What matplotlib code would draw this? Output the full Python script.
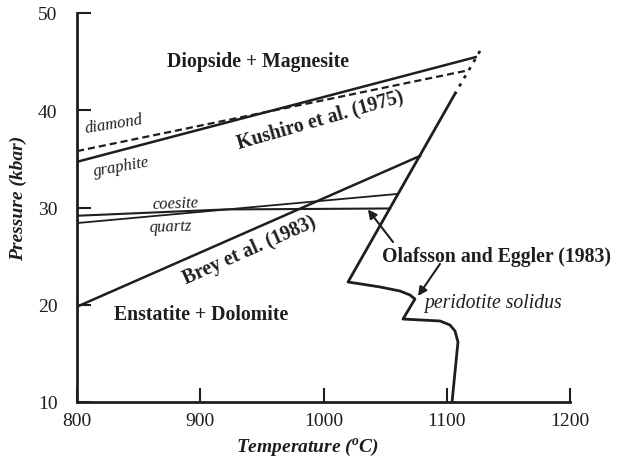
import matplotlib
matplotlib.use("Agg")
import matplotlib.pyplot as plt

plt.rcParams['font.family'] = ['Liberation Serif', 'DejaVu Serif']
plt.rcParams['mathtext.fontset'] = 'custom'
plt.rcParams['mathtext.it'] = 'Liberation Serif:italic:bold'
plt.rcParams['mathtext.rm'] = 'Liberation Serif:bold'

# ---- data (Temperature in degC, Pressure in kbar) ----
kushiro_T = [800, 1124.5]
kushiro_P = [34.7, 45.5]

graphite_diamond_T = [800, 1117.2]
graphite_diamond_P = [35.8, 44.1]

dotted_T = [1127.0, 1106.7]
dotted_P = [46.1, 41.7]

coesite_quartz1_T = [800, 920, 1054.0]
coesite_quartz1_P = [29.15, 29.8, 29.9]

coesite_quartz2_T = [800, 1060.5]
coesite_quartz2_P = [28.4, 31.4]

brey_T = [800, 1078.3]
brey_P = [19.8, 35.3]

solidus_T = [1106.7, 1019.9, 1045.8, 1062.1, 1070.2, 1074.2, 1064.5,
             1094.5, 1102.6, 1106.7, 1109.1, 1104.3]
solidus_P = [41.7, 22.34, 21.83, 21.41, 21.0, 20.59, 18.53,
             18.33, 17.92, 17.30, 16.17, 10.0]

x_ticks = [800, 900, 1000, 1100, 1200]
y_ticks = [10, 20, 30, 40, 50]

ink = '#1e1e1e'

fig = plt.figure(figsize=(6.22, 4.64), dpi=100)
ax = fig.add_axes([77/622, 1-403/464, 493/622, 389/464])
ax.set_xlim(800, 1200)
ax.set_ylim(10, 50)

lw = 1.8
ax.plot(kushiro_T, kushiro_P, color=ink, lw=lw, solid_capstyle='butt')
ax.plot(graphite_diamond_T, graphite_diamond_P, color=ink, lw=1.6, ls=(0, (3.2, 1.8)))
ax.plot(dotted_T, dotted_P, color=ink, lw=2.0, ls=(0, (1.2, 2.2)))
ax.plot(coesite_quartz1_T, coesite_quartz1_P, color=ink, lw=1.5)
ax.plot(coesite_quartz2_T, coesite_quartz2_P, color=ink, lw=1.3)
ax.plot(brey_T, brey_P, color=ink, lw=lw)
ax.plot(solidus_T, solidus_P, color=ink, lw=2.0, solid_joinstyle='round')

# arrows
ax.annotate('', xy=(1036.0, 29.8), xytext=(1056.4, 26.45),
            arrowprops=dict(arrowstyle='-|>', color=ink, lw=1.5,
                            mutation_scale=13, shrinkA=0, shrinkB=0))
ax.annotate('', xy=(1076.7, 20.9), xytext=(1094.5, 24.2),
            arrowprops=dict(arrowstyle='-|>', color=ink, lw=1.5,
                            mutation_scale=13, shrinkA=0, shrinkB=0))

# labels
bold = dict(fontweight='bold', color=ink, ha='center', va='center')
ital = dict(fontstyle='italic', color=ink, ha='center', va='center')
ax.text(946.9, 45.06, 'Diopside + Magnesite', fontsize=14.2, **bold)
ax.text(997.2, 39.1, 'Kushiro et al. (1975)', fontsize=14.2, rotation=16, **bold)
ax.text(900.6, 19.05, 'Enstatite + Dolomite', fontsize=14.2, **bold)
ax.text(939.6, 25.63, 'Brey et al. (1983)', fontsize=14.2, rotation=24, **bold)
ax.text(1140.0, 25.0, 'Olafsson and Eggler (1983)', fontsize=14.2, **bold)
ax.text(830.0, 38.6, 'diamond', fontsize=12, rotation=9, **ital)
ax.text(835.7, 34.2, 'graphite', fontsize=12, rotation=10, **ital)
ax.text(879.5, 30.46, 'coesite', fontsize=12, rotation=2, **ital)
ax.text(876.0, 28.1, 'quartz', fontsize=12, rotation=2, **ital)
ax.text(1137.9, 20.18, 'peridotite solidus', fontsize=14.2, **ital)

# axes styling
for s in ['top', 'right']:
    ax.spines[s].set_visible(False)
for s in ['left', 'bottom']:
    ax.spines[s].set_linewidth(2.0)
    ax.spines[s].set_color(ink)
ax.set_xticks(x_ticks)
ax.set_yticks(y_ticks)
ax.tick_params(direction='in', length=10, width=1.5, colors=ink, labelsize=14)
ax.tick_params(axis='y', pad=14)
ax.tick_params(axis='x', pad=7)

ax.text(0.467, -0.115, r'Temperature ($^{o}$C)', transform=ax.transAxes,
        fontsize=14, fontweight='bold', fontstyle='italic', color=ink,
        ha='center', va='center')
ax.text(-0.118, 0.527, 'Pressure (kbar)', transform=ax.transAxes,
        fontsize=14, fontweight='bold', fontstyle='italic', color=ink,
        ha='center', va='center', rotation=90)

fig.savefig('out.png', dpi=100)
